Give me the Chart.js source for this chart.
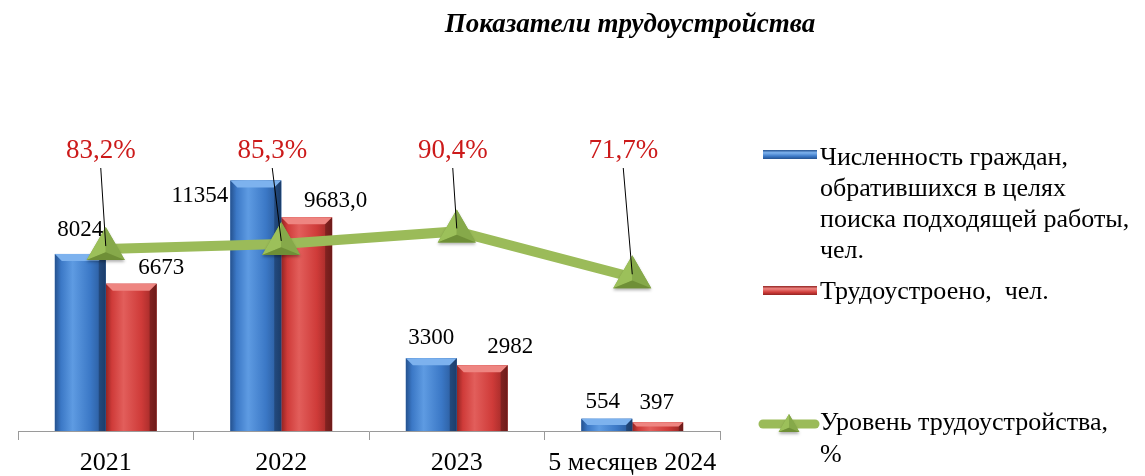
<!DOCTYPE html>
<html>
<head>
<meta charset="utf-8">
<script src="https://cdn.jsdelivr.net/npm/chart.js@4.4.0/dist/chart.umd.min.js"></script>
<style>
  html, body { margin: 0; padding: 0; background: #fff; }
  #wrap { width: 1145px; height: 476px; }
</style>
</head>
<body>
<div id="wrap"><canvas id="chart" width="1145" height="476"></canvas></div>
<script>
// ===== DATA =====
const categories = ['2021', '2022', '2023', '5 месяцев 2024'];
const applied = [8024, 11354, 3300, 554];          // обратившихся, чел.
const employed = [6673, 9683.0, 2982, 397];        // трудоустроено, чел.
const employedDecimals = [0, 1, 0, 0];
const rate = [83.2, 85.3, 90.4, 71.7];             // уровень, %

const titleText = 'Показатели трудоустройства';
const seriesNames = [
    ['Численность граждан,', 'обратившихся в целях', 'поиска подходящей работы,', 'чел.'],
    ['Трудоустроено,  чел.'],
    ['Уровень трудоустройства,', '%']
];

// ===== STYLE / LABEL OFFSETS =====
const SERIF = '"Liberation Serif", "Times New Roman", serif';
const blueOffsets = [[0, -24], [-56, 15], [0, -20], [-4, -17]];
const redOffsets = [[30, -16], [29, -16], [28, -18], [-1, -19]];
const rateOffsets = [-5, -9, -4, -9];

const BLUE = { main: '#3B78C6', light: '#5E9BE2', dark: '#25528F', top: '#7DB2EE' };
const RED = { main: '#CF3B39', light: '#E25E5B', dark: '#922422', top: '#EE8581' };
const GREEN = '#9BBB59';

function fmt(v, d) {
    return v.toFixed(d).replace('.', ',');
}

// ===== BAR BEVEL =====
function bevelBars(ctx, meta, pal) {
    meta.data.forEach(bar => {
        const w = bar.width;
        const left = bar.x - w / 2;
        const right = bar.x + w / 2;
        const top = bar.y;
        const bottom = bar.base;
        const h = bottom - top;
        const g = ctx.createLinearGradient(left, 0, right, 0);
        g.addColorStop(0, pal.dark);
        g.addColorStop(0.12, pal.main);
        g.addColorStop(0.35, pal.light);
        g.addColorStop(0.7, pal.main);
        g.addColorStop(1, pal.dark);
        ctx.save();
        ctx.fillStyle = g;
        ctx.fillRect(left, top, w, h);
        const b = Math.min(7, h / 2);
        ctx.fillStyle = pal.top;
        ctx.beginPath();
        ctx.moveTo(left, top);
        ctx.lineTo(right, top);
        ctx.lineTo(right - b, top + b);
        ctx.lineTo(left + b, top + b);
        ctx.closePath();
        ctx.fill();
        ctx.fillStyle = 'rgba(0,0,0,0.25)';
        ctx.beginPath();
        ctx.moveTo(right, top);
        ctx.lineTo(right, bottom);
        ctx.lineTo(right - b, bottom);
        ctx.lineTo(right - b, top + b);
        ctx.closePath();
        ctx.fill();
        ctx.restore();
    });
}

function drawPyramid(ctx, x, y, r) {
    const ax = x, ay = y - r;
    const lx = x - r * Math.sqrt(3) / 2, ly = y + r / 2;
    const rx = x + r * Math.sqrt(3) / 2, ry = y + r / 2;
    const cx = x, cy = y + r * 0.15;
    const faces = [
        [[ax, ay], [lx, ly], [cx, cy], '#9CC05A'],
        [[ax, ay], [rx, ry], [cx, cy], '#86A94A'],
        [[lx, ly], [rx, ry], [cx, cy], '#6F8F37']
    ];
    ctx.save();
    ctx.shadowColor = 'rgba(0,0,0,0.3)';
    ctx.shadowOffsetY = 2;
    ctx.shadowBlur = 3;
    ctx.fillStyle = '#86A94A';
    ctx.beginPath();
    ctx.moveTo(ax, ay); ctx.lineTo(rx, ry); ctx.lineTo(lx, ly); ctx.closePath();
    ctx.fill();
    ctx.restore();
    faces.forEach(f => {
        ctx.fillStyle = f[3];
        ctx.beginPath();
        ctx.moveTo(f[0][0], f[0][1]);
        ctx.lineTo(f[1][0], f[1][1]);
        ctx.lineTo(f[2][0], f[2][1]);
        ctx.closePath();
        ctx.fill();
    });
}

// ===== CUSTOM DRAWING PLUGIN =====
const decorPlugin = {
    id: 'decor',
    afterDatasetDraw(chart, args) {
        const ctx = chart.ctx;
        const meta = args.meta;
        if (meta.type === 'bar') {
            bevelBars(ctx, meta, args.index === 0 ? BLUE : RED);
        } else if (meta.type === 'line') {
            meta.data.forEach(pt => drawPyramid(ctx, pt.x, pt.y, 22));
        }
    },
    afterDraw(chart) {
        const ctx = chart.ctx;
        const area = chart.chartArea;

        // title
        ctx.save();
        ctx.fillStyle = '#000';
        ctx.font = 'italic bold 27px ' + SERIF;
        ctx.textAlign = 'center';
        ctx.textBaseline = 'middle';
        ctx.fillText(titleText, 630, 25);

        // bar value labels
        ctx.font = '23px ' + SERIF;
        chart.getDatasetMeta(0).data.forEach((bar, i) => {
            ctx.fillText(fmt(applied[i], 0), bar.x + blueOffsets[i][0], bar.y + blueOffsets[i][1]);
        });
        chart.getDatasetMeta(1).data.forEach((bar, i) => {
            ctx.fillText(fmt(employed[i], employedDecimals[i]), bar.x + redOffsets[i][0], bar.y + redOffsets[i][1]);
        });

        // percent labels with leader lines
        const labelY = area.top + 51;
        chart.getDatasetMeta(2).data.forEach((pt, i) => {
            const lx = pt.x + rateOffsets[i];
            ctx.strokeStyle = '#000';
            ctx.lineWidth = 1;
            ctx.beginPath();
            ctx.moveTo(lx, labelY + 17);
            ctx.lineTo(pt.x, pt.y - 3);
            ctx.stroke();
            ctx.fillStyle = '#CC1A1A';
            ctx.font = '27px ' + SERIF;
            ctx.fillText(fmt(rate[i], 1) + '%', lx, labelY);
        });

        // legend
        ctx.textAlign = 'left';
        ctx.font = '26px ' + SERIF;
        const legX = 820;
        const swL = 763, swR = 817;
        function swatch(y, pal) {
            const g = ctx.createLinearGradient(0, y - 4, 0, y + 5);
            g.addColorStop(0, pal.dark);
            g.addColorStop(0.3, pal.top);
            g.addColorStop(0.7, pal.main);
            g.addColorStop(1, pal.dark);
            ctx.fillStyle = g;
            ctx.fillRect(swL, y - 4, swR - swL, 9);
        }
        swatch(154, BLUE);
        ctx.fillStyle = '#000';
        seriesNames[0].forEach((t, k) => ctx.fillText(t, legX, 158 + k * 31));
        swatch(290, RED);
        ctx.fillStyle = '#000';
        ctx.fillText(seriesNames[1][0], legX, 292);
        ctx.strokeStyle = GREEN;
        ctx.lineWidth = 9;
        ctx.lineCap = 'round';
        ctx.beginPath();
        ctx.moveTo(763, 424);
        ctx.lineTo(815, 424);
        ctx.stroke();
        drawPyramid(ctx, 789, 426, 12);
        ctx.fillStyle = '#000';
        seriesNames[2].forEach((t, k) => ctx.fillText(t, legX, 423 + k * 32));
        ctx.restore();
    }
};

// ===== CHART =====
const ctx = document.getElementById('chart');
const chart = new Chart(ctx, {
    data: {
        labels: categories,
        datasets: [
            {
                type: 'bar',
                label: seriesNames[0].join(' '),
                data: applied,
                backgroundColor: BLUE.main,
                yAxisID: 'y',
                order: 2,
                barPercentage: 1.0,
                categoryPercentage: 0.58
            },
            {
                type: 'bar',
                label: seriesNames[1][0],
                data: employed,
                backgroundColor: RED.main,
                yAxisID: 'y',
                order: 2,
                barPercentage: 1.0,
                categoryPercentage: 0.58
            },
            {
                type: 'line',
                label: seriesNames[2].join(' '),
                data: rate,
                yAxisID: 'y2',
                order: 1,
                borderColor: GREEN,
                borderWidth: 10,
                tension: 0,
                pointRadius: 0,
                pointHoverRadius: 0
            }
        ]
    },
    options: {
        responsive: false,
        animation: false,
        layout: { padding: { top: 100, left: 18, right: 425, bottom: 0 } },
        plugins: {
            legend: { display: false },
            tooltip: { enabled: false },
            title: { display: false }
        },
        scales: {
            x: {
                afterFit(scale) { scale.height = 45; },
                grid: {
                    offset: true,
                    drawOnChartArea: false,
                    drawTicks: true,
                    tickLength: 9,
                    color: '#9a9a9a'
                },
                border: { display: true, color: '#9a9a9a' },
                ticks: {
                    color: '#000',
                    padding: 10,
                    font: { family: SERIF, size: 26, lineHeight: 1.0 },
                    maxRotation: 0,
                    autoSkip: false
                }
            },
            y: { display: false, min: 0, max: 15000 },
            y2: { display: false, min: 9, max: 144, position: 'right' }
        }
    },
    plugins: [decorPlugin]
});
</script>
</body>
</html>
